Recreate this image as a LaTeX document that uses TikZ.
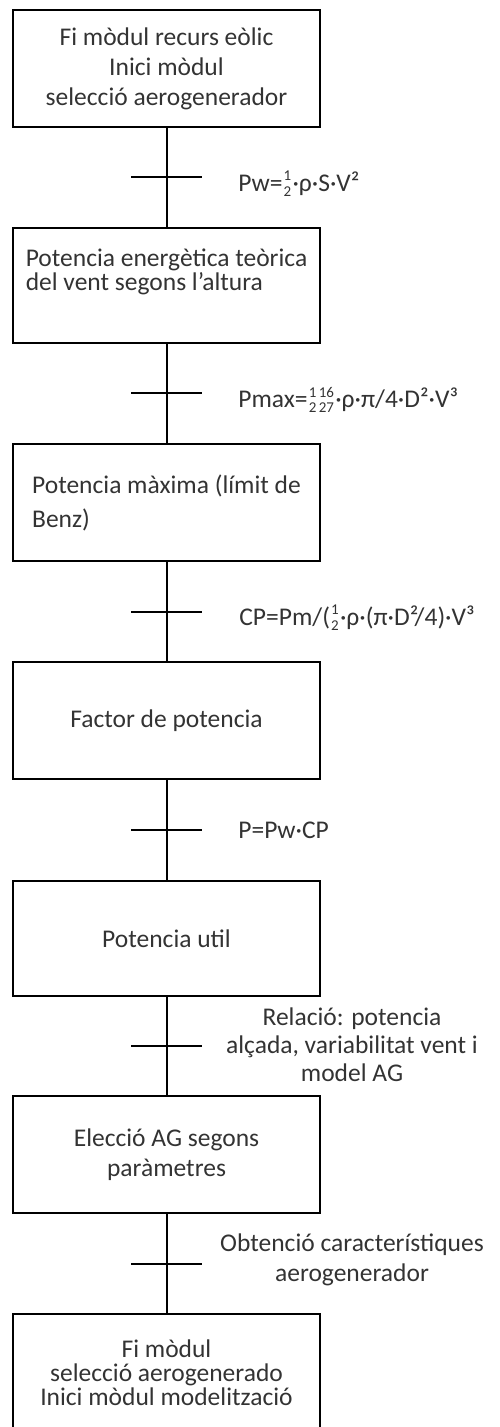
\documentclass[tikz,border=0pt]{standalone}
\usepackage{fontspec}
\setmainfont{Carlito}
\usetikzlibrary{calc}
\newcommand{\fr}[2]{\hspace{0.6pt}\raisebox{-2.8pt}{\fontsize{7.5}{7.5}\selectfont\shortstack{#1\\#2}}\hspace{0.6pt}}
\newcommand{\lsp}[1]{\fontsize{12.75}{#1}\selectfont}

\begin{document}
\begin{tikzpicture}[x=0.5pt, y=-0.5pt]
  \tikzstyle{block} = [rectangle, draw, minimum width = 153.5pt, minimum height = 58.5pt, line width = 1pt, text=black!80, align=center, font=\lsp{15}]
  \tikzstyle{left_block} = [block, align=left]
  \tikzstyle{formula} = [anchor=west, inner sep=0pt, text=black!80, font=\lsp{15}]
  \tikzstyle{bar} = [-, line width = 1pt]

  \useasboundingbox (0,0) rectangle (499,1427);
  \clip (0,0) rectangle (499,1427);

  \node [block] at (166.5,68.5) (start) {Fi mòdul recurs eòlic\\Inici mòdul\\selecció aerogenerador};
  \node [left_block, minimum height = 57.5pt, font=\lsp{12}] at (166.5,285.5) (theory) {Potencia energètica teòrica\\del vent segons l'altura\\[4pt]};
  \node [left_block, font=\lsp{17}] at (166.5,502.5) (maximum) {Potencia màxima (límit de\\Benz)};
  \node [block] at (166.5,720.5) (factor) {Factor de potencia};
  \node [block, minimum height = 57.5pt] at (166.5,938.5) (useful) {Potencia util};
  \node [block] at (166.5,1154.5) (choice) {Elecció AG segons\\paràmetres};
  \node [block, font=\lsp{12}] at (166.5,1372.5) (finish) {Fi mòdul\\selecció aerogenerado\\Inici mòdul modelització};

  \node [formula] at (238,184) (pw) {Pw=\fr{1}{2}·ρ·S·V²};
  \node [formula] at (238,400) (pmax) {Pmax=\fr{1}{2}\fr{16}{27}·ρ·π/4·D²·V³};
  \node [formula] at (239,618) (cp) {CP=Pm/(\fr{1}{2}·ρ·(π·D²/4)·V³};
  \node [formula] at (238,830) (pu) {P=Pw·CP};
  \node [formula, anchor=center, align=center, font=\lsp{14}] at (352,1045) (rel) {Relació: potencia\\alçada, variabilitat vent i\\model AG};
  \node [formula, anchor=center, align=center] at (352,1260) (obt) {Obtenció característiques\\aerogenerador};

  \coordinate (tick1) at ($(start.south)!0.5!(theory.north)$);
  \coordinate (tick2) at ($(theory.south)!0.5!(maximum.north)$);
  \coordinate (tick3) at ($(maximum.south)!0.5!(factor.north)$);
  \coordinate (tick4) at ($(factor.south)!0.5!(useful.north)$);
  \coordinate (tick5) at ($(useful.south)!0.5!(choice.north)$);
  \coordinate (tick6) at ($(choice.south)!0.5!(finish.north)$);

  \draw[bar] (start) -- (theory);
  \draw[bar] (theory) -- (maximum);
  \draw[bar] (maximum) -- (factor);
  \draw[bar] (factor) -- (useful);
  \draw[bar] (useful) -- (choice);
  \draw[bar] (choice) -- (finish);

  \draw[bar] ([xshift=-17.75pt]tick1) -- ([xshift=17.75pt]tick1);
  \draw[bar] ([xshift=-17.75pt]tick2) -- ([xshift=17.75pt]tick2);
  \draw[bar] ([xshift=-17.75pt]tick3) -- ([xshift=17.75pt]tick3);
  \draw[bar] ([xshift=-17.75pt]tick4) -- ([xshift=17.75pt]tick4);
  \draw[bar] ([xshift=-17.75pt]tick5) -- ([xshift=17.75pt]tick5);
  \draw[bar] ([xshift=-17.75pt]tick6) -- ([xshift=17.75pt]tick6);
\end{tikzpicture}
\end{document}
